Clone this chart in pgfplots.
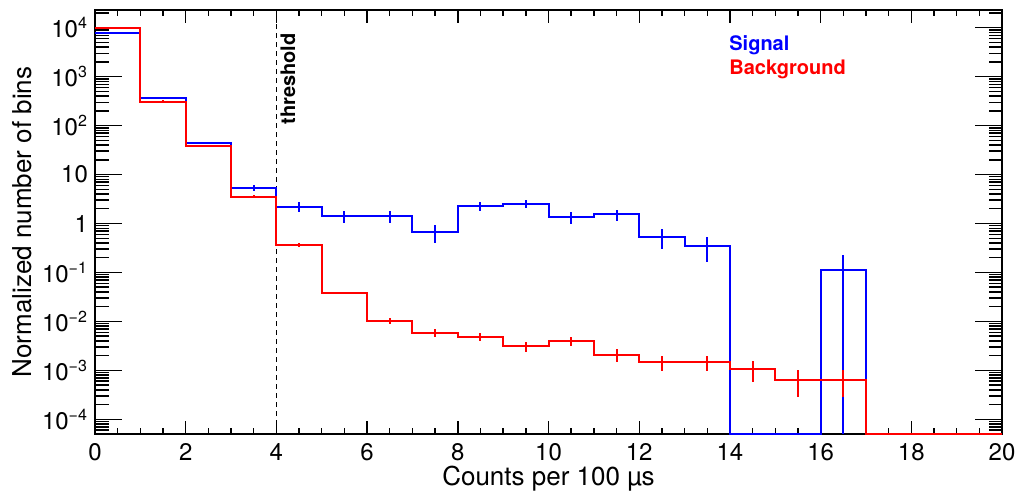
\documentclass[border=0pt]{standalone}
\usepackage{fontspec}
\setmainfont{TeX Gyre Heros}
\usepackage{pgfplots}
\usepackage{pgfplotstable}
\pgfplotsset{compat=1.18}

\pgfplotstableread{
x y
0 7690
1 363
2 43.7
3 5.28
4 2.22
5 1.44
6 1.44
7 0.67
8 2.30
9 2.56
10 1.33
11 1.53
12 0.54
13 0.34
14 5e-5
16 0.112
17 5e-5
20 5e-5
}\sigstep

\pgfplotstableread{
x y
0 9700
1 309
2 38.5
3 3.56
4 0.367
5 0.038
6 0.0103
7 0.0059
8 0.0049
9 0.0031
10 0.0040
11 0.0021
12 0.00148
13 0.00148
14 0.00105
15 0.00064
16 0.00064
17 5e-5
20 5e-5
}\bkgstep

\pgfplotstableread{
x y e
0.5 7690 90
1.5 363 19
2.5 43.7 2
3.5 5.28 0.7
4.5 2.22 0.47
5.5 1.44 0.4
6.5 1.44 0.4
7.5 0.67 0.27
8.5 2.30 0.5
9.5 2.56 0.5
10.5 1.33 0.37
11.5 1.53 0.38
12.5 0.54 0.24
13.5 0.34 0.18
16.5 0.112 0.11195
}\sigerr

\pgfplotstableread{
x y e
0.5 9700 100
1.5 309 17
2.5 38.5 2
3.5 3.56 0.3
4.5 0.367 0.03
5.5 0.038 0.002
6.5 0.0103 0.0015
7.5 0.0059 0.001
8.5 0.0049 0.001
9.5 0.0031 0.0007
10.5 0.0040 0.0009
11.5 0.0021 0.0006
12.5 0.00148 0.0005
13.5 0.00148 0.0005
14.5 0.00105 0.00047
15.5 0.00064 0.00036
16.5 0.00064 0.00036
}\bkgerr

\begin{document}
\begin{tikzpicture}
\begin{axis}[
  scale only axis, width=453.5pt, height=212pt,
  xmin=0, xmax=20, ymode=log, ymin=5e-5, ymax=2.3e4,
  clip=false,
  /pgf/number format/assume math mode=true,
  xtick={0,2,...,20}, minor x tick num=3,
  ytick={1e-4,1e-3,1e-2,1e-1,1,10,100,1000,10000},
  yticklabels={10\textsuperscript{−4},10\textsuperscript{−3},10\textsuperscript{−2},10\textsuperscript{−1},1,10,10\textsuperscript{2},10\textsuperscript{3},10\textsuperscript{4}},
  minor ytick={6e-5,7e-5,8e-5,9e-5,
    2e-4,3e-4,4e-4,5e-4,6e-4,7e-4,8e-4,9e-4,
    2e-3,3e-3,4e-3,5e-3,6e-3,7e-3,8e-3,9e-3,
    2e-2,3e-2,4e-2,5e-2,6e-2,7e-2,8e-2,9e-2,
    0.2,0.3,0.4,0.5,0.6,0.7,0.8,0.9,
    2,3,4,5,6,7,8,9,
    20,30,40,50,60,70,80,90,
    200,300,400,500,600,700,800,900,
    2000,3000,4000,5000,6000,7000,8000,9000,
    20000},
  tick align=inside,
  axis line style={line width=1pt},
  every tick/.style={black, line width=0.7pt},
  xtick style={/pgfplots/major tick length=6.3pt, /pgfplots/minor tick length=3pt},
  ytick style={/pgfplots/major tick length=13.5pt, /pgfplots/minor tick length=6.75pt},
  tick label style={font=\fontsize{12}{14}\selectfont},
  xticklabel style={anchor=base, yshift=-13pt},
  xlabel={Counts per 100 µs},
  ylabel={Normalized number of bins},
  label style={font=\fontsize{13}{15}\selectfont},
  xlabel style={at={(axis description cs:0.5,0)}, anchor=base, yshift=-25.5pt},
  ylabel style={at={(axis description cs:-0.0805,0.5)}, anchor=center},
]
\draw[black, line width=0.75pt, dash pattern=on 2.5pt off 2pt] (axis cs:4,5e-5) -- (axis cs:4,2.3e4);

\addplot[blue, line width=1pt, const plot, mark=none] table[x=x,y=y] {\sigstep};
\addplot[draw=none, mark=none, forget plot,
  error bars/.cd, y dir=both, y explicit, error mark=none,
  error bar style={draw=blue, line width=1pt, solid}]
  table[x=x, y=y, y error=e] {\sigerr};
\addplot[red, line width=1pt, const plot, mark=none] table[x=x,y=y] {\bkgstep};
\addplot[draw=none, mark=none, forget plot,
  error bars/.cd, y dir=both, y explicit, error mark=none,
  error bar style={draw=red, line width=1pt, solid}]
  table[x=x, y=y, y error=e] {\bkgerr};

\node[rotate=90, anchor=east, inner sep=0pt, font=\bfseries\fontsize{10}{12}\selectfont] at (rel axis cs:0.2128,0.9458) {threshold};
\node[anchor=west, inner sep=0pt, text=blue, font=\bfseries\fontsize{10}{12}\selectfont] at (rel axis cs:0.699,0.9158) {Signal};
\node[anchor=west, inner sep=0pt, text=red, font=\bfseries\fontsize{10}{12}\selectfont] at (rel axis cs:0.699,0.860) {Background};

\coordinate (sw) at (rel axis cs:0,0);
\coordinate (ne) at (rel axis cs:1,1);
\end{axis}
\pgfresetboundingbox
\path ([xshift=-47.5pt,yshift=-28pt]sw) rectangle ([xshift=7pt,yshift=5pt]ne);
\end{tikzpicture}
\end{document}
